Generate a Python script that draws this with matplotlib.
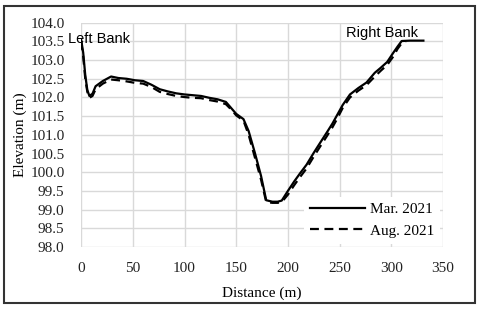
import matplotlib.pyplot as plt
from matplotlib.patches import Rectangle

# cross-section survey, distance (m) vs elevation (m)
mar_x = [0, 2, 4, 6, 8, 11, 14, 21, 29, 36, 44, 52, 60, 68, 76, 84, 92, 100, 108,
         116, 124, 132, 140, 145, 150, 157, 162, 168, 174, 179, 185, 190, 194, 200,
         206, 212, 218, 225, 231, 238, 243, 247, 253, 260, 268, 276, 284, 290, 296,
         302, 306, 310, 318, 331]
mar_y = [103.55, 103.2, 102.6, 102.2, 102.04, 102.1, 102.3, 102.44, 102.56, 102.52,
         102.5, 102.46, 102.44, 102.34, 102.22, 102.16, 102.11, 102.08, 102.06,
         102.04, 101.99, 101.95, 101.88, 101.72, 101.56, 101.42, 101.1, 100.52,
         99.9, 99.25, 99.21, 99.21, 99.24, 99.5, 99.75, 99.98, 100.2, 100.52,
         100.78, 101.08, 101.3, 101.5, 101.8, 102.08, 102.25, 102.4, 102.66, 102.8,
         102.95, 103.2, 103.36, 103.51, 103.52, 103.52]

aug_x = [0, 2, 4, 6, 8, 11, 14, 21, 29, 36, 44, 52, 60, 68, 76, 84, 92, 100, 108,
         116, 124, 132, 140, 145, 150, 157, 162, 168, 174, 179, 185, 190, 194, 200,
         206, 212, 218, 225, 231, 238, 243, 247, 253, 260, 268, 276, 284, 290, 296,
         302, 306, 310, 314]
aug_y = [103.5, 103.1, 102.5, 102.15, 101.99, 102.04, 102.22, 102.37, 102.48, 102.46,
         102.43, 102.39, 102.37, 102.28, 102.15, 102.09, 102.04, 102.01, 101.99,
         101.98, 101.93, 101.89, 101.82, 101.68, 101.52, 101.38, 101.0, 100.4,
         99.8, 99.2, 99.18, 99.18, 99.2, 99.4, 99.65, 99.88, 100.1, 100.42,
         100.68, 100.98, 101.2, 101.4, 101.72, 102.0, 102.18, 102.33, 102.56, 102.72,
         102.87, 103.1, 103.3, 103.45, 103.5]

fig = plt.figure(figsize=(4.8, 3.11), dpi=100)
plt.rcParams['font.family'] = 'Liberation Serif'

ax = fig.add_axes([0.169, 0.206, 0.754, 0.721])
ax.plot(mar_x, mar_y, color='black', lw=1.6, label='Mar. 2021')
ax.plot(aug_x, aug_y, color='black', lw=1.6, ls=(0, (4, 2.5)), label='Aug. 2021')

ax.set_xlim(0, 350)
ax.set_ylim(98, 104)
ax.set_xticks(range(0, 351, 50))
ax.set_yticks([98 + 0.5 * i for i in range(13)])
ax.set_yticklabels(['%.1f' % (98 + 0.5 * i) for i in range(13)])
ax.grid(True, color='#d9d9d9', lw=1)
ax.set_axisbelow(True)
for s in ax.spines.values():
    s.set_visible(False)
ax.tick_params(length=0, labelsize=11, colors='#222222')
ax.tick_params(axis='x', pad=11)
ax.tick_params(axis='y', pad=12)
ax.set_xlabel('Distance (m)', fontsize=11, labelpad=8)
ax.set_ylabel('Elevation (m)', fontsize=11, labelpad=2)

ax.text(-13, 103.56, 'Left Bank', fontsize=10.5, family='Liberation Sans', va='center', ha='left')
ax.text(291, 103.72, 'Right Bank', fontsize=10.5, family='Liberation Sans', va='center', ha='center')

leg = ax.legend(loc='lower right', frameon=True, fontsize=11, handlelength=3.6,
                borderaxespad=0.2, handletextpad=0.3, labelspacing=0.5)
leg.get_frame().set_edgecolor('none')
leg.get_frame().set_alpha(1)

fig.patches.append(Rectangle((0.009, 0.025), 0.98, 0.955, transform=fig.transFigure,
                             fill=False, ec='#333333', lw=1.5))

fig.savefig('out.png', dpi=100)
